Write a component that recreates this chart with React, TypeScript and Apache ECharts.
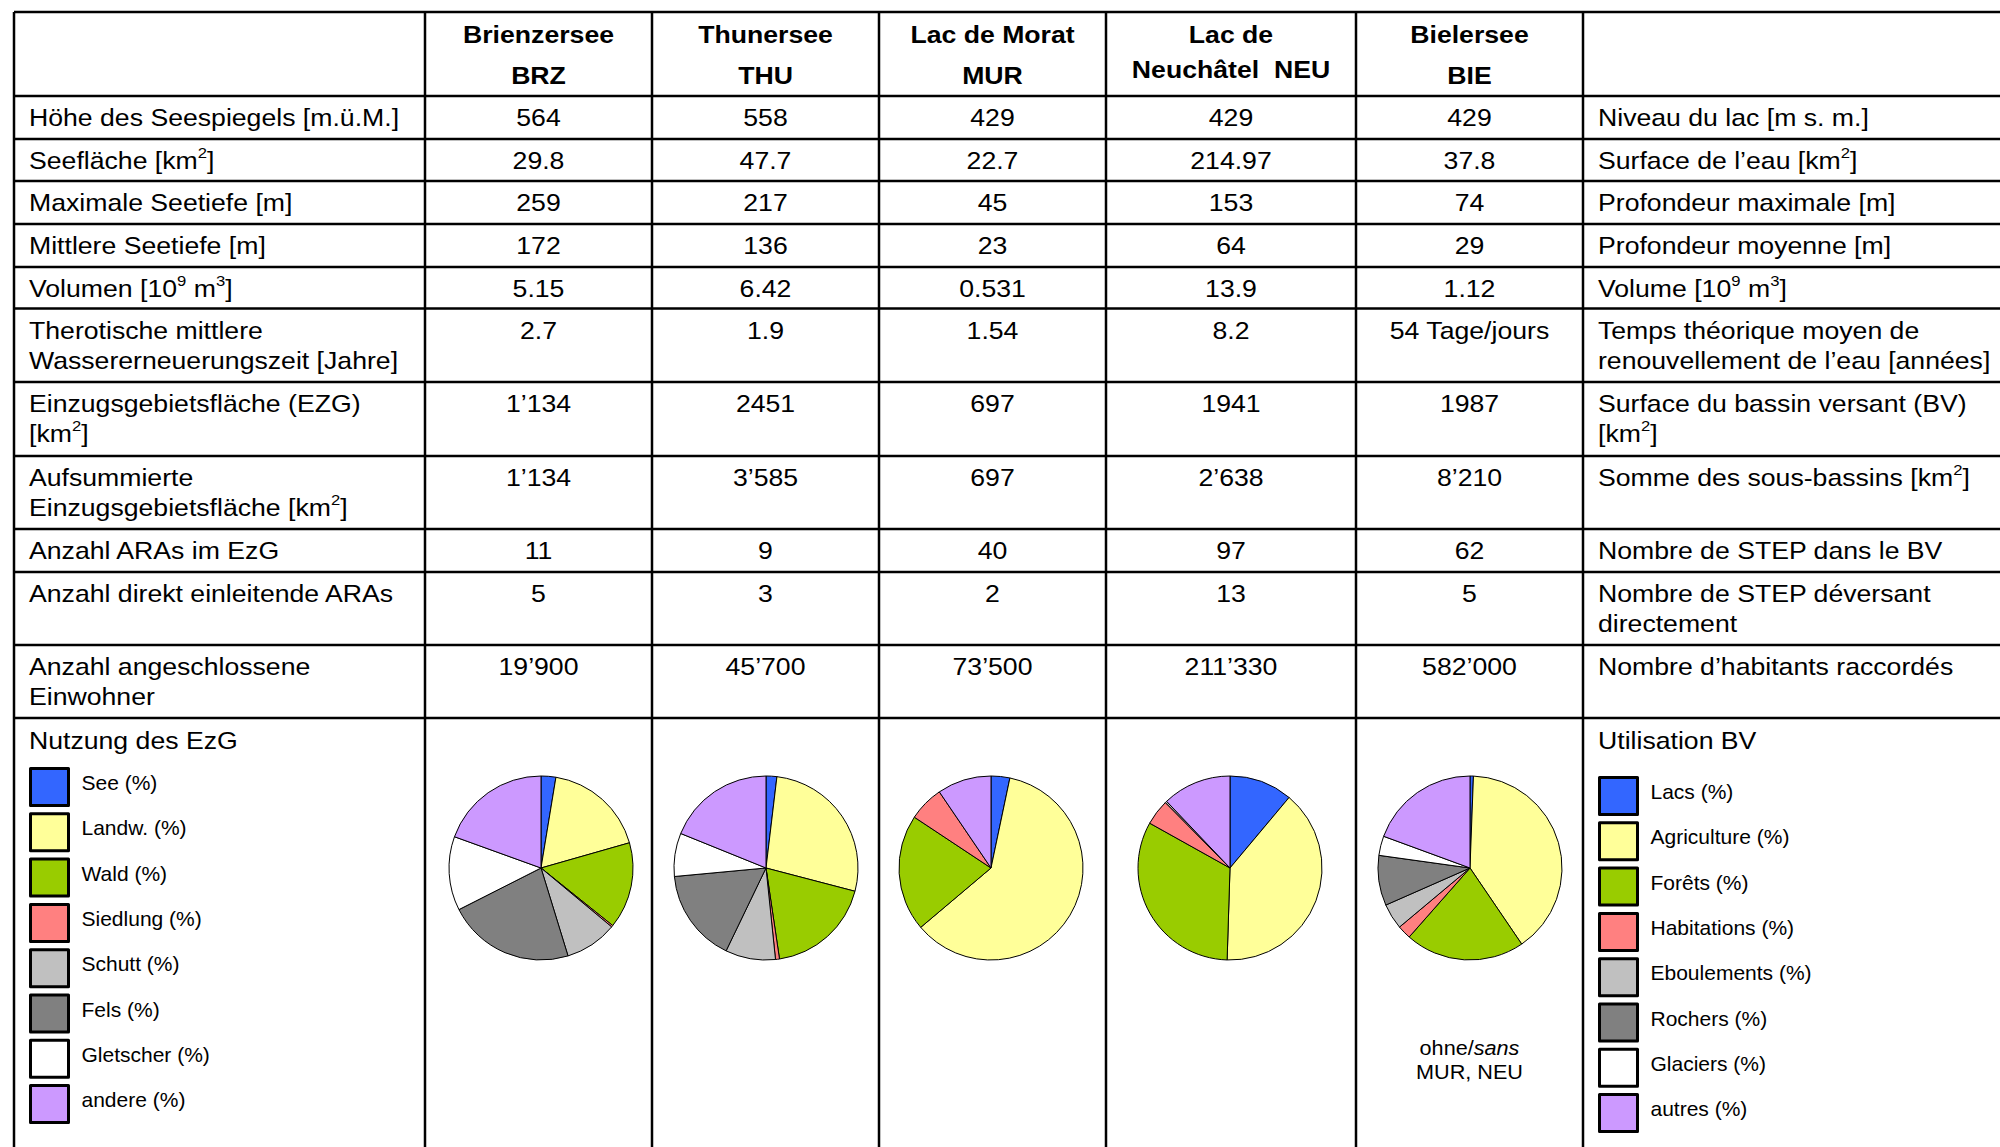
import React, { useEffect, useRef } from "react";
import * as echarts from "echarts";

// ---------- data ----------
const headerLine1 = ["Brienzersee", "Thunersee", "Lac de Morat", "Lac de", "Bielersee"];
const headerLine2 = ["BRZ", "THU", "MUR", "Neuchâtel  NEU", "BIE"];

const rowLabelsDE = [
  "Höhe des Seespiegels [m.ü.M.]",
  "Seefläche [km{sup|2}]",
  "Maximale Seetiefe [m]",
  "Mittlere Seetiefe [m]",
  "Volumen [10{sup|9} m{sup|3}]",
  "Therotische mittlere\nWassererneuerungszeit [Jahre]",
  "Einzugsgebietsfläche (EZG)\n[km{sup|2}]",
  "Aufsummierte\nEinzugsgebietsfläche [km{sup|2}]",
  "Anzahl ARAs im EzG",
  "Anzahl direkt einleitende ARAs",
  "Anzahl angeschlossene\nEinwohner",
];

const rowLabelsFR = [
  "Niveau du lac [m s. m.]",
  "Surface de l’eau [km{sup|2}]",
  "Profondeur maximale [m]",
  "Profondeur moyenne [m]",
  "Volume [10{sup|9} m{sup|3}]",
  "Temps théorique moyen de\nrenouvellement de l’eau [années]",
  "Surface du bassin versant (BV)\n[km{sup|2}]",
  "Somme des sous-bassins [km{sup|2}]",
  "Nombre de STEP dans le BV",
  "Nombre de STEP déversant\ndirectement",
  "Nombre d’habitants raccordés",
];

const valuesBRZ = ["564", "29.8", "259", "172", "5.15", "2.7", "1’134", "1’134", "11", "5", "19’900"];
const valuesTHU = ["558", "47.7", "217", "136", "6.42", "1.9", "2451", "3’585", "9", "3", "45’700"];
const valuesMUR = ["429", "22.7", "45", "23", "0.531", "1.54", "697", "697", "40", "2", "73’500"];
const valuesNEU = ["429", "214.97", "153", "64", "13.9", "8.2", "1941", "2’638", "97", "13", "211’330"];
const valuesBIE = ["429", "37.8", "74", "29", "1.12", "54 Tage/jours", "1987", "8’210", "62", "5", "582’000"];

const landUseDE = ["See (%)", "Landw. (%)", "Wald (%)", "Siedlung (%)", "Schutt (%)", "Fels (%)", "Gletscher (%)", "andere (%)"];
const landUseFR = ["Lacs (%)", "Agriculture (%)", "Forêts (%)", "Habitations (%)", "Eboulements (%)", "Rochers (%)", "Glaciers (%)", "autres (%)"];
const landUseColors = ["#3366FF", "#FFFF99", "#99CC00", "#FF8080", "#C0C0C0", "#808080", "#FFFFFF", "#CC99FF"];

const shareBRZ = [2.6, 18.0, 15.2, 0.3, 9.2, 22.3, 13.0, 19.5];
const shareTHU = [1.9, 27.2, 18.6, 0.7, 8.8, 16.4, 7.6, 18.9];
const shareMUR = [3.3, 60.6, 20.5, 6.2, 0, 0, 0, 9.5];
const shareNEU = [11.1, 39.4, 32.6, 4.5, 0.3, 0, 0, 12.1];
const shareBIE = [0.6, 39.9, 21.0, 2.4, 4.5, 8.8, 3.4, 19.4];

const titleDE = "Nutzung des EzG";
const titleFR = "Utilisation BV";
const noteBIE = "ohne/{i|sans}\nMUR, NEU";

// ---------- layout ----------
const W = 2000;
const H = 1147;
const FONT = "'Liberation Sans', Arial, Helvetica, sans-serif";
const SX = 1.11;
const rowLines = [12, 96, 139, 181, 224, 267, 308.5, 382, 456, 529, 572, 645, 718];
const colLines = [14, 425, 652, 879, 1106, 1356, 1583];
const pieX = [541, 766, 991, 1230, 1470];
const pieY = 868;
const pieR = 92;

const RICH = {
  sup: { fontSize: 15, fontFamily: FONT, verticalAlign: "top", lineHeight: 17, fill: "#000", color: "#000" },
  i: { fontSize: 19.5, fontFamily: FONT, fontStyle: "italic", fill: "#000", color: "#000" },
};

function textEl(x: number, y: number, text: string, o: any = {}) {
  const align = o.align || "left";
  const vAlign = o.vAlign || "top";
  return {
    type: "text",
    x,
    y,
    scaleX: SX,
    silent: true,
    style: {
      text,
      fontSize: o.fontSize || 24,
      fontFamily: FONT,
      fontWeight: o.bold ? "bold" : "normal",
      fill: "#000",
      align,
      textAlign: align,
      verticalAlign: vAlign,
      textVerticalAlign: vAlign,
      lineHeight: o.lineHeight || 30,
      rich: RICH,
    },
  };
}

export default function App() {
  const ref = useRef<HTMLDivElement>(null);

  useEffect(() => {
    if (!ref.current) return;
    const chart = echarts.init(ref.current, null, { renderer: "svg", width: W, height: H });

    const valueCols = [valuesBRZ, valuesTHU, valuesMUR, valuesNEU, valuesBIE];
    const shares = [shareBRZ, shareTHU, shareMUR, shareNEU, shareBIE];
    const colCenters = colLines.slice(0, -1).map((c, i) => (c + colLines[i + 1]) / 2).slice(1);

    const elements: any[] = [];
    // grid lines
    rowLines.forEach((y) => {
      elements.push({
        type: "line",
        silent: true,
        shape: { x1: colLines[0], y1: y, x2: W, y2: y },
        style: { stroke: "#000", lineWidth: 2.5 },
      });
    });
    colLines.forEach((x) => {
      elements.push({
        type: "line",
        silent: true,
        shape: { x1: x, y1: rowLines[0], x2: x, y2: H },
        style: { stroke: "#000", lineWidth: 2.5 },
      });
    });

    // header
    headerLine1.forEach((t, i) => {
      elements.push(textEl(colCenters[i], 34.5, t, { align: "center", vAlign: "middle", bold: true }));
    });
    headerLine2.forEach((t, i) => {
      const y = i === 3 ? 69 : 75.5;
      elements.push(textEl(colCenters[i], y, t, { align: "center", vAlign: "middle", bold: true }));
    });

    // rows
    rowLabelsDE.forEach((lab, r) => {
      const top = rowLines[r + 1] + 6.7;
      elements.push(textEl(29, top, lab));
      elements.push(textEl(colLines[6] + 15, top, rowLabelsFR[r]));
      valueCols.forEach((vals, c) => {
        elements.push(textEl(colCenters[c], top, vals[r], { align: "center" }));
      });
    });

    // pie section titles
    elements.push(textEl(29, 740, titleDE, { vAlign: "middle" }));
    elements.push(textEl(colLines[6] + 15, 740, titleFR, { vAlign: "middle" }));
    elements.push(textEl(colCenters[4], 1036, noteBIE, { align: "center", fontSize: 19.5, lineHeight: 24 }));

    const legendBase: any = {
      data: landUseDE,
      orient: "vertical",
      padding: 0,
      itemWidth: 38,
      itemHeight: 37,
      itemGap: 5.3,
      icon: "rect",
      selectedMode: false,
      itemStyle: { borderColor: "#000", borderWidth: 3 },
      textStyle: {
        fontSize: 21,
        fontFamily: FONT,
        color: "#000",
        rich: {
          t: { fontSize: 21, fontFamily: FONT, color: "#000", padding: [0, 0, 9, 8] },
        },
      },
    };

    chart.setOption({
      animation: false,
      backgroundColor: "#fff",
      legend: [
        { ...legendBase, left: 29, top: 767, formatter: (n: string) => `{t|${n}}` },
        {
          ...legendBase,
          left: colLines[6] + 15,
          top: 776,
          height: 370,
          formatter: (n: string) => `{t|${landUseFR[landUseDE.indexOf(n)]}}`,
        },
      ],
      series: shares.map((s, i) => ({
        type: "pie",
        center: [pieX[i], pieY],
        radius: pieR,
        startAngle: 90,
        clockwise: true,
        silent: true,
        label: { show: false },
        labelLine: { show: false },
        emphasis: { disabled: true },
        itemStyle: { borderColor: "#000", borderWidth: 1 },
        data: s
          .map((v, k) => ({ name: landUseDE[k], value: v, itemStyle: { color: landUseColors[k] } }))
          .filter((d) => d.value > 0),
      })),
      graphic: { elements },
    });

    return () => chart.dispose();
  }, []);

  return (
    <div
      ref={ref}
      style={{ position: "fixed", left: 0, top: 0, width: W, height: H, background: "#fff" }}
    />
  );
}
